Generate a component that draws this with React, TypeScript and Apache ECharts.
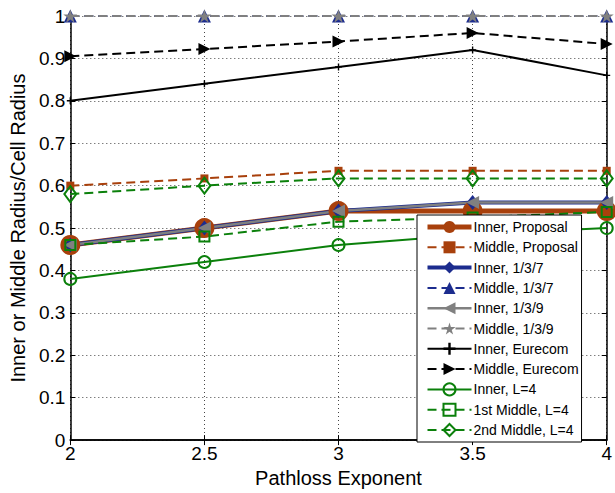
import React, { useEffect, useRef } from "react";
import * as echarts from "echarts";

// Pathloss exponent on the x axis
const exponents = [2, 2.5, 3, 3.5, 4];

// Radius ratios (inner / middle radius over cell radius)
const innerProposal = [0.46, 0.5, 0.54, 0.54, 0.54];
const middleProposal = [0.6, 0.617, 0.635, 0.635, 0.635];
const inner137 = [0.46, 0.5, 0.54, 0.56, 0.56];
const middle137 = [1, 1, 1, 1, 1];
const inner139 = [0.46, 0.5, 0.54, 0.56, 0.56];
const middle139 = [1, 1, 1, 1, 1];
const innerEurecom = [0.8, 0.84, 0.88, 0.92, 0.86];
const middleEurecom = [0.905, 0.922, 0.94, 0.96, 0.934];
const innerL4 = [0.38, 0.42, 0.46, 0.485, 0.5];
const middle1L4 = [0.46, 0.48, 0.515, 0.525, 0.538];
const middle2L4 = [0.58, 0.6, 0.617, 0.617, 0.617];

const xTickLabels = ["2", "2.5", "3", "3.5", "4"];
const yTickLabels = ["0", "0.1", "0.2", "0.3", "0.4", "0.5", "0.6", "0.7", "0.8", "0.9", "1"];

const BROWN = "#a8400c";
const BLUE = "#1c2c8e";
const GRAY = "#808080";
const BLACK = "#000000";
const GREEN = "#0b800b";
const FONT = "'Liberation Sans', Arial, sans-serif";
const DASH = [9, 5];

const STAR = "path://M50,0 L61,35 L98,35 L68,57 L79,91 L50,70 L21,91 L32,57 L2,35 L39,35 Z";
const PLUS = "path://M4,0 H6 V4 H10 V6 H6 V10 H4 V6 H0 V4 H4 Z";

type SeriesSpec = {
  name: string;
  values: number[];
  color: string;
  width: number;
  dashed: boolean;
  symbol: string;
  size: number | number[];
  rotate?: number;
  hollow?: boolean;
};

const specs: SeriesSpec[] = [
  { name: "Inner, Proposal", values: innerProposal, color: BROWN, width: 5, dashed: false, symbol: "circle", size: 20 },
  { name: "Middle, Proposal", values: middleProposal, color: BROWN, width: 2, dashed: true, symbol: "rect", size: 8 },
  { name: "Inner, 1/3/7", values: inner137, color: BLUE, width: 4, dashed: false, symbol: "diamond", size: [12, 15] },
  { name: "Middle, 1/3/7", values: middle137, color: BLUE, width: 2, dashed: true, symbol: "triangle", size: 13 },
  { name: "Inner, 1/3/9", values: inner139, color: GRAY, width: 2.5, dashed: false, symbol: "triangle", size: 13, rotate: 90 },
  { name: "Middle, 1/3/9", values: middle139, color: GRAY, width: 2, dashed: true, symbol: STAR, size: 14 },
  { name: "Inner, Eurecom", values: innerEurecom, color: BLACK, width: 2, dashed: false, symbol: PLUS, size: 7 },
  { name: "Middle, Eurecom", values: middleEurecom, color: BLACK, width: 2, dashed: true, symbol: "triangle", size: 12, rotate: -90 },
  { name: "Inner, L=4", values: innerL4, color: GREEN, width: 2, dashed: false, symbol: "circle", size: 12, hollow: true },
  { name: "1st Middle, L=4", values: middle1L4, color: GREEN, width: 2, dashed: true, symbol: "rect", size: 10, hollow: true },
  { name: "2nd Middle, L=4", values: middle2L4, color: GREEN, width: 2, dashed: true, symbol: "diamond", size: [12, 16], hollow: true },
];

export default function App() {
  const ref = useRef<HTMLDivElement>(null);

  useEffect(() => {
    if (!ref.current) return;
    const chart = echarts.init(ref.current, undefined, { renderer: "svg" });

    const series = specs.map((s) => ({
      name: s.name,
      type: "line",
      data: exponents.map((x, i) => [x, s.values[i]]),
      clip: false,
      symbol: s.symbol,
      symbolSize: s.size,
      symbolRotate: s.rotate ?? 0,
      symbolKeepAspect: true,
      showAllSymbol: true,
      lineStyle: {
        color: s.color,
        width: s.width,
        type: s.dashed ? DASH : "solid",
      },
      itemStyle: s.hollow
        ? { color: "rgba(0,0,0,0)", borderColor: s.color, borderWidth: 2 }
        : { color: s.color, borderColor: s.color, borderWidth: 0 },
      emphasis: { disabled: true },
    }));

    const axisText = { color: "#000", fontFamily: FONT, fontSize: 19 };

    chart.setOption({
      animation: false,
      backgroundColor: "#fff",
      grid: { left: 68, right: 5.5, top: 16, bottom: 51, containLabel: false },
      legend: {
        left: 417,
        top: 215,
        orient: "vertical",
        backgroundColor: "#fff",
        borderColor: "#000",
        borderWidth: 1,
        padding: [5, 3, 5, 8],
        itemWidth: 44,
        itemHeight: 15,
        itemGap: 6.3,
        textStyle: { color: "#000", fontFamily: FONT, fontSize: 14, padding: [0, 0, 0, -3] },
        data: specs.map((s) => ({
          name: s.name,
          lineStyle: { width: s.width, type: s.dashed ? DASH : "solid", color: s.color },
        })),
      },
      xAxis: [
        {
          type: "value",
          min: 2,
          max: 4,
          interval: 0.5,
          name: "Pathloss Exponent",
          nameLocation: "middle",
          nameGap: 26,
          nameTextStyle: { color: "#000", fontFamily: FONT, fontSize: 20 },
          axisLine: { show: true, lineStyle: { color: "#000", width: 1.5 } },
          axisTick: { show: true, inside: true, length: 5, lineStyle: { color: "#000" } },
          axisLabel: {
            ...axisText,
            margin: 4,
            formatter: (v: number) => xTickLabels[Math.round((v - 2) / 0.5)] ?? "",
          },
          splitLine: { show: true, lineStyle: { color: "#444", width: 1, type: [1, 3] } },
        },
        {
          type: "value",
          position: "top",
          min: 2,
          max: 4,
          interval: 0.5,
          axisLine: { show: true, lineStyle: { color: "#000", width: 1.5 } },
          axisTick: { show: true, inside: true, length: 5, lineStyle: { color: "#000" } },
          axisLabel: { show: false },
          splitLine: { show: false },
        },
      ],
      yAxis: [
        {
          type: "value",
          min: 0,
          max: 1,
          interval: 0.1,
          name: "Inner or Middle Radius/Cell Radius",
          nameLocation: "middle",
          nameGap: 40,
          nameTextStyle: { color: "#000", fontFamily: FONT, fontSize: 20 },
          axisLine: { show: true, lineStyle: { color: "#000", width: 1.5 } },
          axisTick: { show: true, inside: true, length: 5, lineStyle: { color: "#000" } },
          axisLabel: {
            ...axisText,
            margin: 5,
            formatter: (v: number) => yTickLabels[Math.round(v * 10)] ?? "",
          },
          splitLine: { show: true, lineStyle: { color: "#444", width: 1, type: [1, 3] } },
        },
        {
          type: "value",
          position: "right",
          min: 0,
          max: 1,
          interval: 0.1,
          axisLine: { show: true, lineStyle: { color: "#000", width: 1.5 } },
          axisTick: { show: true, inside: true, length: 5, lineStyle: { color: "#000" } },
          axisLabel: { show: false },
          splitLine: { show: false },
        },
      ],
      series,
    });

    return () => chart.dispose();
  }, []);

  return (
    <div
      ref={ref}
      style={{ position: "absolute", left: 0, top: 0, width: 615, height: 493 }}
    />
  );
}
